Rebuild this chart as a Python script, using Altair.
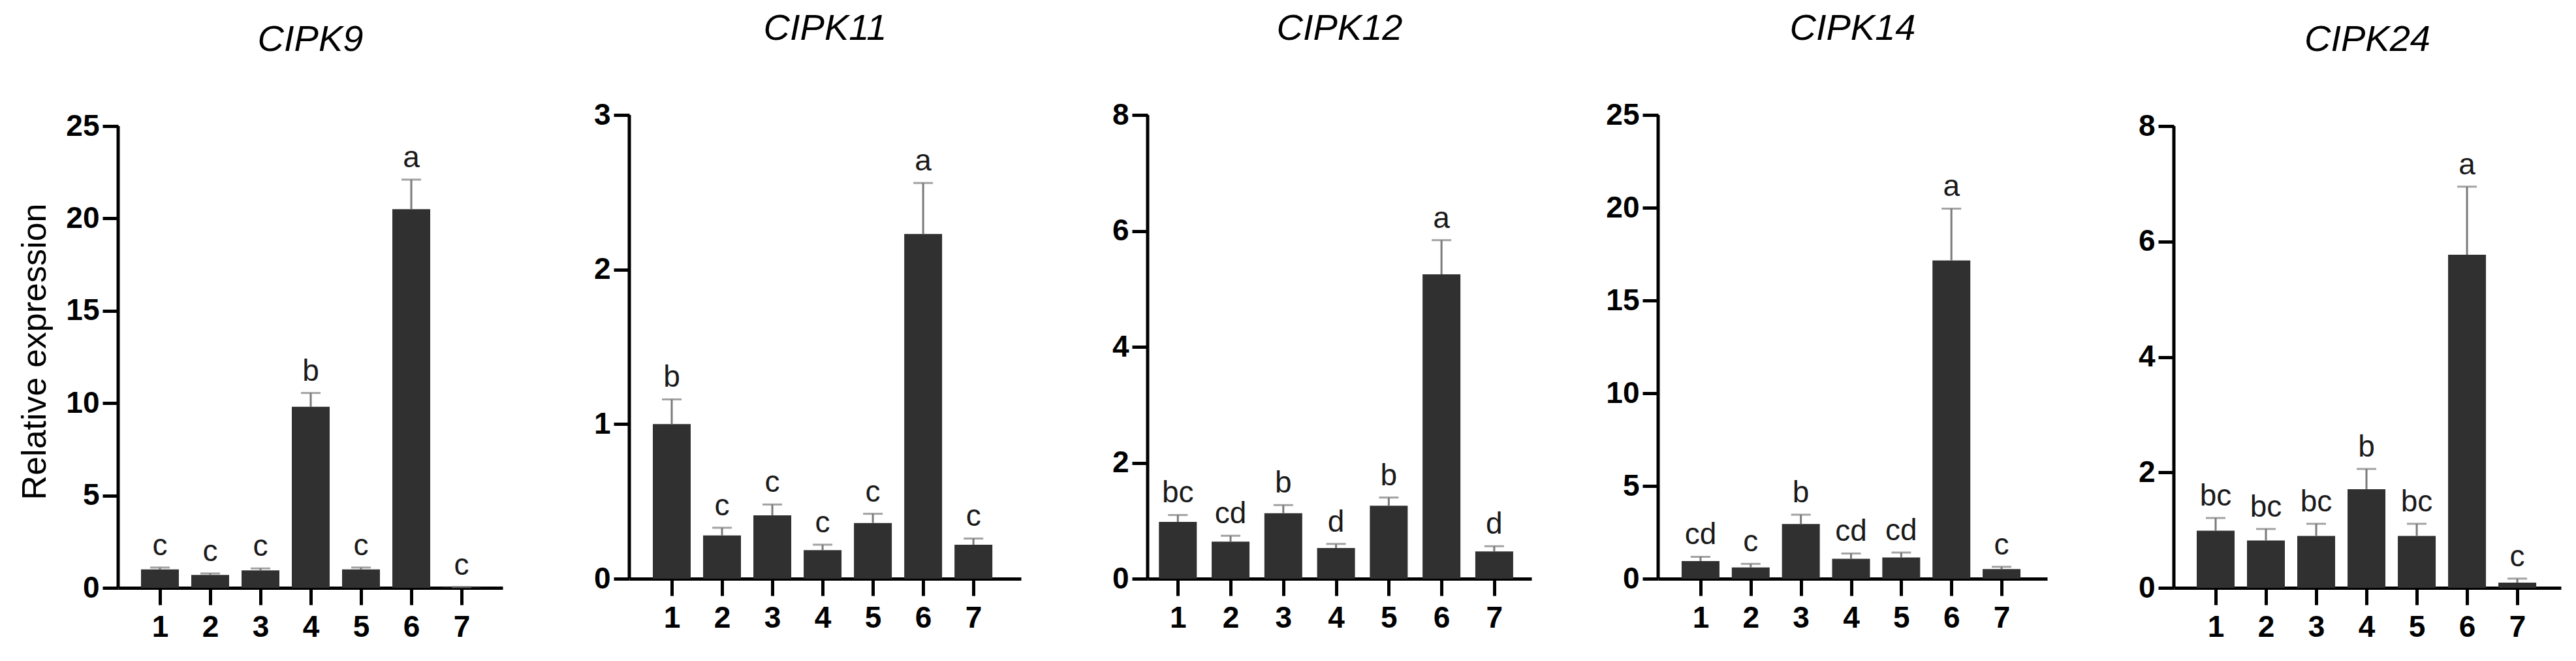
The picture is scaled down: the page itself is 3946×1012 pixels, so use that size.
import altair as alt
import pandas as pd

genes = ["CIPK9", "CIPK11", "CIPK12", "CIPK14", "CIPK24"]
groups = [1, 2, 3, 4, 5, 6, 7]

means = {
    "CIPK9":  [1.00, 0.70, 0.95, 9.80, 1.00, 20.50, 0.03],
    "CIPK11": [1.00, 0.28, 0.41, 0.185, 0.36, 2.23, 0.22],
    "CIPK12": [0.98, 0.64, 1.13, 0.53, 1.26, 5.25, 0.47],
    "CIPK14": [0.95, 0.61, 2.95, 1.07, 1.14, 17.16, 0.52],
    "CIPK24": [0.99, 0.82, 0.90, 1.71, 0.90, 5.77, 0.09],
}
errors = {
    "CIPK9":  [0.10, 0.08, 0.10, 0.75, 0.10, 1.60, 0.01],
    "CIPK11": [0.16, 0.05, 0.07, 0.035, 0.06, 0.33, 0.04],
    "CIPK12": [0.12, 0.10, 0.14, 0.07, 0.14, 0.59, 0.09],
    "CIPK14": [0.23, 0.19, 0.50, 0.29, 0.27, 2.79, 0.12],
    "CIPK24": [0.22, 0.20, 0.21, 0.35, 0.21, 1.18, 0.07],
}
letters = {
    "CIPK9":  ["c", "c", "c", "b", "c", "a", "c"],
    "CIPK11": ["b", "c", "c", "c", "c", "a", "c"],
    "CIPK12": ["bc", "cd", "b", "d", "b", "a", "d"],
    "CIPK14": ["cd", "c", "b", "cd", "cd", "a", "c"],
    "CIPK24": ["bc", "bc", "bc", "b", "bc", "a", "c"],
}
y_ticks = {
    "CIPK9":  [0, 5, 10, 15, 20, 25],
    "CIPK11": [0, 1, 2, 3],
    "CIPK12": [0, 2, 4, 6, 8],
    "CIPK14": [0, 5, 10, 15, 20, 25],
    "CIPK24": [0, 2, 4, 6, 8],
}

# layout (pixels / domain extents)
widths = [589, 600, 588, 596, 593]
heights = [724, 710, 710, 710, 724]
x_domains = [[0.234, 7.753], [0.221, 7.881], [0.489, 7.645], [0.220, 7.845], [0.234, 7.804]]
y_tops = [25 * 724 / 707, 3, 8, 25, 8 * 724 / 707]

FONT = "Liberation Sans"
BAR = "#303030"
ERR = "#7a7a7a"

panels = []
for i, g in enumerate(genes):
    df = pd.DataFrame({
        "group": groups,
        "mean": means[g],
        "upper": [m + e for m, e in zip(means[g], errors[g])],
        "letter": letters[g],
    })
    ysc = alt.Scale(domain=[0, y_tops[i]], nice=False, zero=True)
    yax = alt.Axis(values=y_ticks[g], format="d",
                   title="Relative expression" if i == 0 else "")
    xsc = alt.Scale(domain=x_domains[i], nice=False, zero=False)
    xax = alt.Axis(values=groups, format="d", title="")
    base = alt.Chart(df).encode(x=alt.X("group:Q", scale=xsc, axis=xax))

    bars = base.mark_bar(size=58, color=BAR).encode(
        y=alt.Y("mean:Q", scale=ysc, axis=yax))
    err = base.mark_rule(color=ERR, strokeWidth=3).encode(
        y=alt.Y("mean:Q", scale=ysc, axis=yax), y2="upper:Q")
    cap = base.mark_tick(orient="horizontal", size=30, thickness=3, color=ERR).encode(
        y=alt.Y("upper:Q", scale=ysc, axis=yax))
    txt = base.mark_text(baseline="bottom", dy=-9, fontSize=46, font=FONT,
                         color="#1a1a1a").encode(
        y=alt.Y("upper:Q", scale=ysc, axis=yax), text="letter:N")
    yline = alt.Chart(pd.DataFrame({"y0": [0], "y1": [y_ticks[g][-1]]})).mark_rule(
        color="black", strokeWidth=5).encode(
        x=alt.value(0), y=alt.Y("y0:Q", scale=ysc, axis=yax), y2="y1:Q")

    panel = alt.layer(bars, err, cap, txt, yline).properties(
        width=widths[i], height=heights[i],
        title=alt.Title(g, font=FONT, fontSize=56, fontStyle="italic",
                        fontWeight="normal", color="black", anchor="middle",
                        frame="group", offset=80),
    )
    panels.append(panel)

chart = alt.hconcat(*panels, spacing=194, bounds="flush").configure_view(
    stroke=None
).configure_axis(
    grid=False, domainColor="black", domainWidth=5, tickColor="black",
    tickWidth=5, labelFont=FONT, labelFontWeight="bold", labelFontSize=46,
    labelColor="black", titleFont=FONT, titleColor="black",
).configure_axisX(
    tickSize=26, labelPadding=12,
).configure_axisY(
    tickSize=24, labelPadding=5, domain=False, titleFontWeight="normal",
    titleFontSize=52, titlePadding=20,
).properties(
    background="white", padding={"left": 19, "top": 8, "right": 5, "bottom": 5}
)

chart.save("out.html", embed_options={"renderer": "svg", "actions": False})
